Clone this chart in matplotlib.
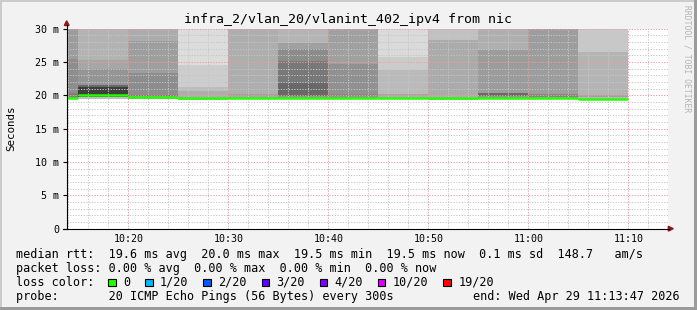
import matplotlib
matplotlib.use("Agg")
import matplotlib.pyplot as plt
from matplotlib.patches import Polygon, Rectangle
from matplotlib.transforms import Affine2D

W, H = 697, 310
MONO = "DejaVu Sans Mono"

title = "infra_2/vlan_20/vlanint_402_ipv4 from nic"

# 5 minute slots, first one is partial (graph starts 1 h before end)
slot_edges = ["10:13:47", "10:15", "10:20", "10:25", "10:30", "10:35", "10:40",
              "10:45", "10:50", "10:55", "11:00", "11:05", "11:10"]

median_ms = [19.6, 20.0, 19.75, 19.55, 19.6, 19.6, 19.6, 19.6, 19.55, 19.6, 19.6, 19.5]

# smoke bands per slot (ms, bottom -> top) and their grey level
smoke_edges = [
    [19.4, 19.8, 20.4, 25.4, 30],
    [19.4, 19.72, 19.85, 21.2, 21.55, 23.95, 25.3, 30],
    [19.5, 19.9, 20.1, 23.4, 28.15, 30],
    [19.35, 19.7, 20.65, 21.2, 24.5, 30],
    [19.45, 19.9, 20.25, 30],
    [19.45, 19.9, 21.85, 25.15, 27.0, 27.9, 30],
    [19.45, 19.9, 20.25, 24.75, 30],
    [19.45, 19.9, 20.2, 23.8, 25.8, 30],
    [19.3, 19.9, 28.35, 30],
    [19.45, 19.9, 20.4, 26.75, 30],
    [19.45, 19.75, 20.25, 30],
    [19.3, 19.75, 20.1, 26.5, 30],
]
smoke_gray = [
    [160, 125, 141, 156],
    [190, 30, 62, 105, 149, 166, 179],
    [150, 119, 141, 158, 172],
    [180, 173, 189, 205, 220],
    [170, 160, 174],
    [150, 104, 120, 140, 160, 180],
    [150, 135, 145, 160],
    [175, 165, 186, 203, 218],
    [175, 171, 193],
    [150, 106, 156, 175],
    [160, 133, 157],
    [185, 160, 180, 200],
]

x_major = ["10:20", "10:30", "10:40", "10:50", "11:00", "11:10"]
y_major = [0, 5, 10, 15, 20, 25, 30]

stats_rows = [
    "median rtt:  19.6 ms avg  20.0 ms max  19.5 ms min  19.5 ms now  0.1 ms sd  148.7   am/s",
    "packet loss: 0.00 % avg  0.00 % max  0.00 % min  0.00 % now",
]
loss_labels = ["0", "1/20", "2/20", "3/20", "4/20", "10/20", "19/20"]
loss_colors = ["#26ff00", "#00b8ff", "#0059ff", "#5e00ff", "#7e00ff", "#dd00ff", "#ff0000"]
probe_text = "probe:       20 ICMP Echo Pings (56 Bytes) every 300s"
end_text = "end: Wed Apr 29 11:13:47 2026"


def to_min(s):
    p = [int(v) for v in s.split(":")]
    sec = p[2] if len(p) > 2 else 0
    return (p[0] - 10) * 60 + p[1] + sec / 60.0


fig = plt.figure(figsize=(W / 100, H / 100), dpi=100, facecolor="#f2f2f2")
pix = Affine2D().scale(1.0 / W, -1.0 / H).translate(0, 1) + fig.transFigure

ax = fig.add_axes([67 / W, 1 - 228.7 / H, 601 / W, 200 / H])
ax.set_facecolor("white")
ax.set_xlim(13.87, 73.97)
ax.set_ylim(0, 30)
for s in ax.spines.values():
    s.set_visible(False)

# smoke
edges = [to_min(t) for t in slot_edges]
for i in range(len(median_ms)):
    x0, x1 = edges[i], edges[i + 1]
    e = smoke_edges[i]
    for j, g in enumerate(smoke_gray[i]):
        c = "#%02x%02x%02x" % (g, g, g)
        ax.bar(x0, e[j + 1] - e[j], bottom=e[j], width=x1 - x0, align="edge",
               color=c, linewidth=0, zorder=1)
    ax.hlines(median_ms[i], x0, x1, color="#26ff00", lw=1.8, zorder=3)

# grid
ax.set_xticks([to_min(t) for t in x_major])
ax.set_xticklabels(x_major, family=MONO, fontsize=7.2)
ax.set_xticks([m for m in range(14, 74, 2)], minor=True)
ax.set_yticks(y_major)
ax.set_yticklabels(["0" if v == 0 else "%d m" % v for v in y_major], family=MONO, fontsize=7.2)
ax.set_yticks(range(1, 30), minor=True)
ax.set_axisbelow(False)
ax.grid(which="minor", color="#c6c6c6", lw=0.72, ls=(0, (1.2, 1.5)))
ax.grid(which="major", color="#f49a9a", lw=0.72, ls=(0, (1.2, 1.5)))
ax.tick_params(axis="x", which="both", length=0, pad=4)
ax.tick_params(axis="y", which="major", length=3, width=0.8, direction="out", pad=2.5)
ax.tick_params(axis="y", which="minor", length=0)

# axes with arrows
fig.add_artist(plt.Line2D([66.7, 66.7], [228.7, 25], color="black", lw=0.8, transform=pix))
fig.add_artist(plt.Line2D([62.7, 669], [228.7, 228.7], color="black", lw=0.8, transform=pix))
fig.add_artist(Polygon([[64.3, 25.5], [69.1, 25.5], [66.7, 20.8]], closed=True,
                       color="#8b1a1a", transform=pix))
fig.add_artist(Polygon([[668.3, 226.3], [668.3, 231.1], [673.3, 228.7]], closed=True,
                       color="#8b1a1a", transform=pix))

# texts
fig.text(348 / W, 1 - 19 / H, title, family=MONO, fontsize=9.5, ha="center", va="center")
fig.text(11 / W, 1 - 128 / H, "Seconds", family=MONO, fontsize=7.8, rotation=90,
         ha="center", va="center")
fig.text(687 / W, 1 - 59 / H, "RRDTOOL / TOBI OETIKER", family=MONO, fontsize=5.8,
         rotation=270, ha="center", va="center", color="#b4b4b4")

rows_y = [254.3, 268.2, 282.3, 296.3]
for k, row in enumerate(stats_rows):
    fig.text(16 / W, 1 - rows_y[k] / H, row, family=MONO, fontsize=8.5, va="center")
fig.text(16 / W, 1 - rows_y[2] / H, "loss color:", family=MONO, fontsize=8.5, va="center")
cw = 7.13
bx = 108.3
for lab, col in zip(loss_labels, loss_colors):
    fig.add_artist(Rectangle((bx, rows_y[2] - 3.6), 7.4, 7.4, facecolor=col,
                             edgecolor="black", lw=0.8, transform=pix))
    tx = bx + 15
    fig.text(tx / W, 1 - rows_y[2] / H, lab, family=MONO, fontsize=8.5, va="center")
    bx = tx + len(lab) * cw + 14.7
fig.text(16 / W, 1 - rows_y[3] / H, probe_text, family=MONO, fontsize=8.5, va="center")
fig.text(680 / W, 1 - rows_y[3] / H, end_text, family=MONO, fontsize=8.5, va="center", ha="right")

# frame
fig.add_artist(Rectangle((0, 0), W, 2, color="#cbcbcb", lw=0, transform=pix))
fig.add_artist(Rectangle((0, 0), 2, H, color="#cbcbcb", lw=0, transform=pix))
fig.add_artist(Rectangle((W - 3, 0), 3, H, color="#9b9b9b", lw=0, transform=pix))
fig.add_artist(Rectangle((0, H - 3), W, 3, color="#9b9b9b", lw=0, transform=pix))

fig.savefig("out.png", dpi=100, facecolor=fig.get_facecolor())
